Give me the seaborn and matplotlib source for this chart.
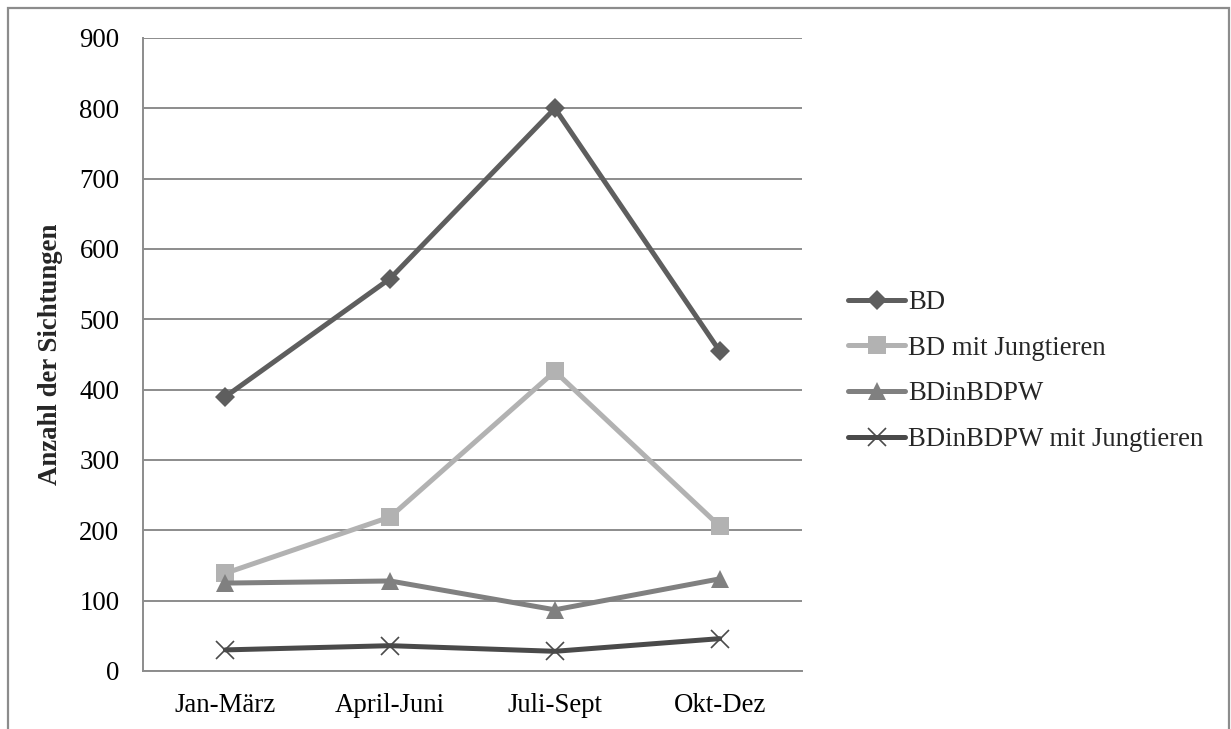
import matplotlib
matplotlib.use("Agg")
import matplotlib.pyplot as plt
from matplotlib.patches import Rectangle
import pandas as pd
import seaborn as sns

# Quarterly sighting counts
quarters = ["Jan-März", "April-Juni", "Juli-Sept", "Okt-Dez"]
bd = [390, 558, 800, 455]
bd_jung = [139, 219, 426, 206]
bdinbdpw = [125, 128, 87, 131]
bdinbdpw_jung = [30, 36, 28, 46]

series_names = ["BD", "BD mit Jungtieren", "BDinBDPW", "BDinBDPW mit Jungtieren"]
series_values = [bd, bd_jung, bdinbdpw, bdinbdpw_jung]
y_ticks = [0, 100, 200, 300, 400, 500, 600, 700, 800, 900]

sns.set_theme(style="white")
plt.rcParams["font.family"] = ["Liberation Serif", "DejaVu Serif"]
FS = 19.3

styles = {
    "BD": dict(color="#5e5e5e", marker="D", markersize=10, markeredgewidth=0),
    "BD mit Jungtieren": dict(color="#b2b2b2", marker="s", markersize=13, markeredgewidth=0),
    "BDinBDPW": dict(color="#808080", marker="^", markersize=13, markeredgewidth=0),
    "BDinBDPW mit Jungtieren": dict(color="#4a4a4a", marker="x", markersize=13,
                                    markeredgewidth=1.2, markeredgecolor="#4a4a4a"),
}

fig = plt.figure(figsize=(12.31, 7.29), dpi=100)
ax = fig.add_axes([143 / 1231, 1 - 671 / 729, (802 - 143) / 1231, (671 - 38) / 729])

for name, vals in zip(series_names, series_values):
    d = pd.DataFrame({"pos": range(len(quarters)), "Wert": vals})
    sns.lineplot(data=d, x="pos", y="Wert", ax=ax, label=name,
                 linewidth=3.6, **styles[name])

ax.set_xlim(-0.5, 3.5)
ax.set_ylim(0, 900)
ax.set_yticks(y_ticks)
ax.set_xticks(range(len(quarters)))
ax.set_xticklabels(quarters)
ax.yaxis.grid(True, color="#8c8c8c", linewidth=1.4)
ax.set_axisbelow(True)
ax.tick_params(axis="both", labelsize=FS, length=0, colors="black")
ax.tick_params(axis="x", pad=16)
ax.tick_params(axis="y", pad=17)
for s in ["top", "right"]:
    ax.spines[s].set_visible(False)
for s in ["left", "bottom"]:
    ax.spines[s].set_color("#8c8c8c")
    ax.spines[s].set_linewidth(1.4)

ax.set_xlabel("")
ax.set_ylabel("Anzahl der Sichtungen", fontsize=FS, fontweight="bold", labelpad=12)

handles, labels = ax.get_legend_handles_labels()
leg = ax.legend(
    handles, labels, loc="center left", bbox_to_anchor=(848 / 1231, 1 - 371 / 729),
    bbox_transform=fig.transFigure, frameon=False, fontsize=FS,
    handlelength=2.13, handletextpad=0.1, labelspacing=0.77, borderaxespad=0,
    borderpad=0,
)

# outer frame around the chart
fig.patches.append(Rectangle(
    (8 / 1231, -0.05), (1229 - 8) / 1231, 1.05 - 8 / 729,
    transform=fig.transFigure, fill=False, edgecolor="#8c8c8c", linewidth=1.6,
))

fig.savefig("out.png", dpi=100)
